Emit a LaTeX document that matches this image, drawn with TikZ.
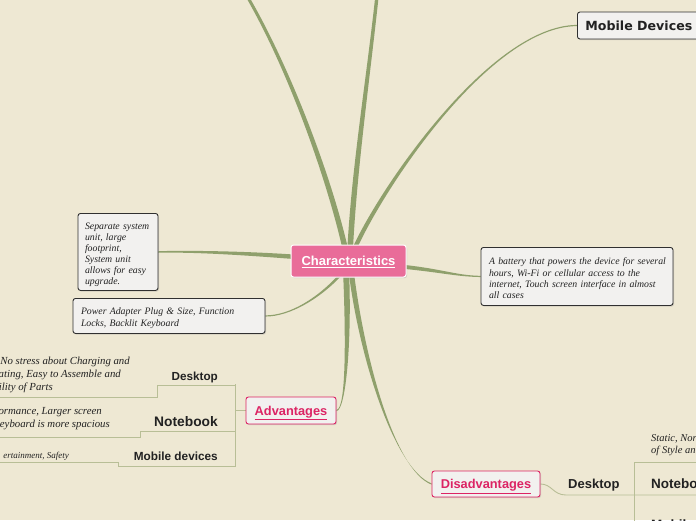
\documentclass[tikz,border=0pt]{standalone}
\usepackage{fontspec}
\setmainfont{Liberation Serif}
\newfontfamily\lsans{Liberation Sans}
\newfontfamily\djsans{DejaVu Sans}
\usetikzlibrary{calc,shadows}
\definecolor{bgc}{RGB}{238,232,211}
\definecolor{brc}{RGB}{143,160,108}
\definecolor{thinc}{RGB}{184,190,150}
\definecolor{pinkc}{RGB}{233,108,153}
\definecolor{redc}{RGB}{220,36,100}
\definecolor{boxf}{RGB}{242,241,239}
\definecolor{boxd}{RGB}{48,48,48}
\definecolor{txtc}{RGB}{34,34,34}
\pgfdeclarelayer{back}\pgfdeclarelayer{mid}\pgfsetlayers{back,mid,main}
\newcommand\taper[6]{\fill[brc] ($#1+#5$) .. controls ($#2+#5$) and ($#3+#6$) .. ($#4+#6$) -- ($#4-#6$) .. controls ($#3-#6$) and ($#2-#5$) .. ($#1-#5$) -- cycle;}
\begin{document}
\begin{tikzpicture}[x=1pt,y=-1pt,
  box/.style={draw=boxd, line width=0.9pt, fill=boxf, rounded corners=2.5pt,
    drop shadow={shadow xshift=1pt, shadow yshift=-1.2pt, opacity=0.25}},
  itx/.style={font=\fontsize{9.8}{11.3}\selectfont\itshape, text=txtc, align=left},
  ctx/.style={text=txtc, inner sep=0pt},
  thinl/.style={draw=thinc, line width=0.9pt},
  pinkbox/.style={box, draw=redc, inner sep=0pt, text=redc, text height=12.4pt, text depth=3pt, font=\lsans\bfseries\fontsize{12.8}{14}\selectfont}]
\useasboundingbox (0,0) rectangle (696,520);
\begin{pgfonlayer}{back}
\fill[bgc] (0,0) rectangle (696,520);
\end{pgfonlayer}
\clip (0,0) rectangle (696,520);

% main nodes
\node[box, fill=pinkc, draw=white, line width=1pt, minimum width=115pt, minimum height=32pt, inner sep=0pt, text=white, text height=12.6pt, text depth=3pt, font=\lsans\bfseries\fontsize{13}{15}\selectfont] (char) at (348.5,261) {\underline{Characteristics}};
\node[box, anchor=west, minimum height=27pt, inner xsep=8pt, inner ysep=0pt, text=txtc, font=\djsans\bfseries\fontsize{12.6}{14}\selectfont] (mob) at (577,25.5) {Mobile Devices};
\node[box, itx, font=\fontsize{9.8}{11}\selectfont\itshape, anchor=north, text width=66pt, inner xsep=7pt, inner ysep=6pt, text height=10.5pt, text depth=54.5pt] (sep) at (118,213) {Separate system\\unit, large\\footprint,\\System unit\\allows for easy\\upgrade.};
\node[box, itx, anchor=north, text width=176pt, inner xsep=8pt, inner ysep=7pt, text height=9.5pt, text depth=11.5pt] (pow) at (169,298) {Power Adapter Plug \& Size, Function\\Locks, Backlit Keyboard};
\node[box, itx, anchor=north, text width=176pt, inner xsep=8pt, inner ysep=7pt, text height=10.5pt, text depth=33.5pt] (bat) at (577,247) {\mbox{A battery that powers the device for several}\\hours, Wi-Fi or cellular access to the\\internet, Touch screen interface in almost\\all cases};
\node[pinkbox, minimum width=90pt, minimum height=27pt] (adv) at (291,410.5) {\underline{Advantages}};
\node[pinkbox, minimum width=108pt, minimum height=26pt] (dis) at (486,484) {\underline{Disadvantages}};

% advantages subtree
\node[ctx, anchor=base east, font=\lsans\bfseries\fontsize{11.7}{13}\selectfont] (advd) at (218,380) {Desktop};
\node[ctx, anchor=base east, font=\lsans\bfseries\fontsize{13.8}{15}\selectfont] (advn) at (218,426) {Notebook};
\node[ctx, anchor=base east, font=\lsans\bfseries\fontsize{11.8}{13}\selectfont] (advm) at (218,460) {Mobile devices};
\node[ctx, anchor=base east, font=\fontsize{10.8}{13}\selectfont\itshape] (ad1) at (130,364) {No stress about Charging and};
\node[ctx, anchor=base east, font=\fontsize{10.8}{13}\selectfont\itshape] (ad2) at (121,377) {ating, Easy to Assemble and};
\node[ctx, anchor=base east, font=\fontsize{10.8}{13}\selectfont\itshape] (ad3) at (53,390) {ility of Parts};
\node[ctx, anchor=base east, font=\fontsize{10.8}{13}\selectfont\itshape] (an1) at (102,414) {ormance, Larger screen};
\node[ctx, anchor=base east, font=\fontsize{10.8}{13}\selectfont\itshape] (an2) at (110,427) {eyboard is more spacious};
\node[ctx, anchor=base east, font=\fontsize{9}{11}\selectfont\itshape] (am1) at (69,458) {ertainment, Safety};

% disadvantages subtree
\node[ctx, anchor=base west, font=\lsans\bfseries\fontsize{13}{15}\selectfont] (disd) at (568,488) {Desktop};
\node[ctx, anchor=base west, font=\lsans\bfseries\fontsize{13.5}{15}\selectfont] (disn) at (651,488) {Notebook};
\node[ctx, anchor=base west, font=\lsans\bfseries\fontsize{13.5}{15}\selectfont] (dism) at (651,529) {Mobile devices};
\node[ctx, anchor=base west, font=\fontsize{10.5}{12}\selectfont\itshape] (ds1) at (651,441) {Static, Nor};
\node[ctx, anchor=base west, font=\fontsize{10.5}{12}\selectfont\itshape] (ds2) at (651,453) {of Style an};

\coordinate (va) at (235,410.5);
\coordinate (vt) at (235,384);
\coordinate (vb) at (235,466.5);
\coordinate (vd) at (634,462);
\coordinate (vn) at (634,495);

\begin{pgfonlayer}{mid}
\begin{scope}
\clip (0,0) rectangle (696,520);
% tapered branches
\taper{(346,252)}{(330,180)}{(290,70)}{(247,-4)}{(2.8,0)}{(1.7,0)}
\taper{(350,252)}{(354,170)}{(368,80)}{(377,-4)}{(2.8,0)}{(1.7,0)}
\taper{(353,252)}{(380,190)}{(490,26)}{(mob.west)}{(2.4,0)}{(0,0.6)}
\taper{(395,266)}{(440,270)}{(455,276)}{(bat.west)}{(0,2)}{(0,0.6)}
\taper{(310,258)}{(260,254)}{(200,251)}{(sep.east)}{(0,2.3)}{(0,0.8)}
\taper{(343,272)}{(320,298)}{(290,316)}{(pow.east)}{(1.8,0)}{(0,0.6)}
\taper{(346,270)}{(349,340)}{(346,410)}{(adv.east)}{(3,0)}{(0,0.6)}
\taper{(351,270)}{(362,360)}{(395,470)}{(dis.west)}{(2.6,0)}{(0,0.6)}
% advantages connectors
\draw[thinl] (adv.west) -- (va);
\draw[thinl] (vt) -- (vb);
\draw[thinl] (235,385) -- (157,385) -- (157,397) -- (-5,397);
\draw[thinl] (235,431) -- (140,431) -- (140,437) -- (-5,437);
\draw[thinl] (vb) -- (118,466.5) -- (118,462) -- (-5,462);
% disadvantages connectors
\draw[thinl] (dis.east) .. controls (552,484) and (553,495) .. (566,495) -- (vn) -- (700,495);
\draw[thinl] (vd) -- (634,525);
\draw[thinl] (vd) -- (700,462);
\end{scope}
\end{pgfonlayer}
\end{tikzpicture}
\end{document}
